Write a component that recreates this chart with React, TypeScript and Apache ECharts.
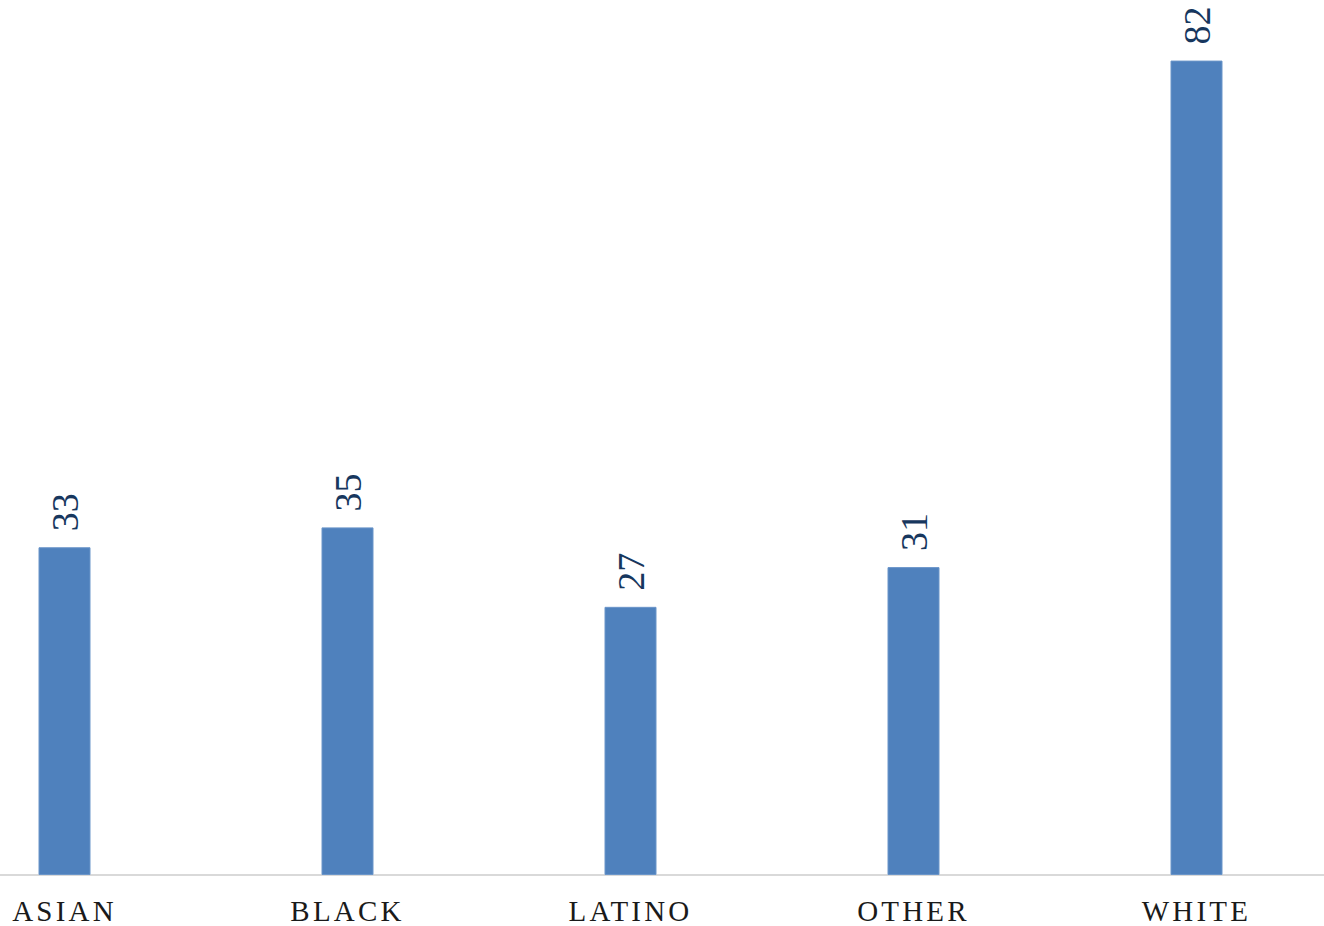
import React, { useEffect, useRef } from "react";
import * as echarts from "echarts";

const categories = ["ASIAN", "BLACK", "LATINO", "OTHER", "WHITE"];
const values = [33, 35, 27, 31, 82];

const SERIF = "'Liberation Serif', 'DejaVu Serif', serif";

export default function App() {
  const ref = useRef<HTMLDivElement>(null);
  useEffect(() => {
    if (!ref.current) return;
    const chart = echarts.init(ref.current, undefined, { renderer: "svg" });
    chart.setOption({
      animation: false,
      grid: { left: 0, right: 0, top: 1, bottom: 51, containLabel: false },
      xAxis: {
        type: "category",
        data: categories,
        axisLine: { show: true, lineStyle: { color: "#d9d9d9", width: 2 } },
        axisTick: { show: false },
        axisLabel: {
          color: "#1a1a1a",
          fontFamily: SERIF,
          fontSize: 29,
          margin: 21,
        },
      },
      yAxis: {
        type: "value",
        min: 0,
        max: 88,
        show: false,
        splitLine: { show: false },
      },
      series: [
        {
          type: "bar",
          data: values,
          barWidth: 52,
          itemStyle: { color: "#4f81bd", borderColor: "#6a95c9", borderWidth: 1 },
          label: {
            show: true,
            position: "top",
            rotate: 90,
            align: "left",
            verticalAlign: "middle",
            distance: 16,
            color: "#17375e",
            fontFamily: SERIF,
            fontSize: 38,
          },
        },
      ],
    });
    return () => chart.dispose();
  }, []);
  return (
    <div style={{ position: "fixed", left: 0, top: 0, width: 1324, height: 926, overflow: "hidden", background: "#fff" }}>
      <style>{`text[fill="#1a1a1a"] { letter-spacing: 3.2px; } text { font-family: 'Liberation Serif', serif !important; }`}</style>
      <div ref={ref} style={{ position: "absolute", left: -77, top: 0, width: 1415, height: 926 }} />
    </div>
  );
}
